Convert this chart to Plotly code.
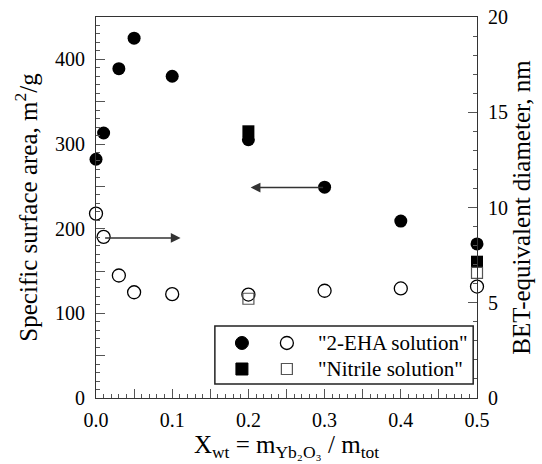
import plotly.graph_objects as go

# ---- data ----
x_vals = [0.0, 0.01, 0.03, 0.05, 0.1, 0.2, 0.3, 0.4, 0.5]
eha_area = [282, 313, 389, 425, 380, 305, 249, 209, 182]          # m2/g (left axis)
eha_diam = [9.68, 8.46, 6.43, 5.55, 5.45, 5.43, 5.63, 5.75, 5.85]  # nm (right axis)
nit_x = [0.2, 0.5]
nit_area = [315, 161]
nit_diam = [5.21, 6.57]

x_tickvals = [0, 0.05, 0.1, 0.15, 0.2, 0.25, 0.3, 0.35, 0.4, 0.45, 0.5]
x_ticktext = ["0.0", "", "0.1", "", "0.2", "", "0.3", "", "0.4", "", "0.5"]
y_tickvals = [0, 50, 100, 150, 200, 250, 300, 350, 400, 450]
y_ticktext = ["0", "", "100", "", "200", "", "300", "", "400", ""]
y2_tickvals = [0, 5, 10, 15, 20]
legend_labels = ['"2-EHA solution"', '"Nitrile solution"']

FONT = "Liberation Serif, Times New Roman, serif"
AX = "#333333"
TK = "#555555"

fig = go.Figure()
fig.add_trace(go.Scatter(x=x_vals, y=eha_area, mode="markers", cliponaxis=False,
                         marker=dict(symbol="circle", size=13, color="black"), showlegend=False))
fig.add_trace(go.Scatter(x=nit_x, y=nit_area, mode="markers", cliponaxis=False,
                         marker=dict(symbol="square", size=12, color="black"), showlegend=False))
fig.add_trace(go.Scatter(x=x_vals, y=eha_diam, mode="markers", yaxis="y2", cliponaxis=False,
                         marker=dict(symbol="circle-open", size=13, color="black",
                                     line=dict(width=1.3, color="black")), showlegend=False))
fig.add_trace(go.Scatter(x=nit_x, y=nit_diam, mode="markers", yaxis="y2", cliponaxis=False,
                         marker=dict(symbol="square-open", size=11, color="#555555",
                                     line=dict(width=1.2, color="#555555")), showlegend=False))

# arrows
fig.add_annotation(x=0.203, y=248.6, ax=0.3, ay=248.6, xref="x", yref="y", axref="x", ayref="y",
                   showarrow=True, arrowhead=2, arrowsize=1.3, arrowwidth=1.5, arrowcolor="#333", text="")
fig.add_annotation(x=0.111, y=8.4, ax=0.01, ay=8.4, xref="x", yref="y2", axref="x", ayref="y2",
                   showarrow=True, arrowhead=2, arrowsize=1.3, arrowwidth=1.5, arrowcolor="#333", text="")

# custom legend
shapes = [dict(type="rect", xref="paper", yref="paper", x0=0.312, x1=0.990, y0=0.037, y1=0.189,
               line=dict(color="#222", width=1.5), fillcolor="white", layer="above")]
rows_y = [0.1444, 0.0761]
cx1, cx2 = 0.383, 0.501
r = 6.5
shapes.append(dict(type="circle", xref="paper", yref="paper", xsizemode="pixel", ysizemode="pixel",
                   xanchor=cx1, yanchor=rows_y[0], x0=-r, x1=r, y0=-r, y1=r,
                   fillcolor="black", line=dict(color="black", width=1), layer="above"))
shapes.append(dict(type="circle", xref="paper", yref="paper", xsizemode="pixel", ysizemode="pixel",
                   xanchor=cx2, yanchor=rows_y[0], x0=-r, x1=r, y0=-r, y1=r,
                   fillcolor="white", line=dict(color="black", width=1.3), layer="above"))
s = 6
shapes.append(dict(type="rect", xref="paper", yref="paper", xsizemode="pixel", ysizemode="pixel",
                   xanchor=cx1, yanchor=rows_y[1], x0=-s, x1=s, y0=-s, y1=s,
                   fillcolor="black", line=dict(color="black", width=1), layer="above"))
shapes.append(dict(type="rect", xref="paper", yref="paper", xsizemode="pixel", ysizemode="pixel",
                   xanchor=cx2, yanchor=rows_y[1], x0=-s+0.5, x1=s-0.5, y0=-s+0.5, y1=s-0.5,
                   fillcolor="white", line=dict(color="#555", width=1.2), layer="above"))
for lab, yy in zip(legend_labels, rows_y):
    fig.add_annotation(x=0.577, y=yy, xref="paper", yref="paper", text=lab, showarrow=False,
                       xanchor="left", yanchor="middle", font=dict(family=FONT, size=21, color="black"))

fig.update_layout(
    width=542, height=464,
    margin=dict(l=96, r=65, t=17, b=66, autoexpand=False),
    plot_bgcolor="white", paper_bgcolor="white",
    font=dict(family=FONT, size=20, color="black"),
    shapes=shapes,
    xaxis=dict(range=[0, 0.5], tickvals=x_tickvals, ticktext=x_ticktext, automargin=False,
               ticks="inside", ticklen=9, tickcolor=TK, tickwidth=1,
               minor=dict(dtick=0.01, ticks="inside", ticklen=4, tickcolor=TK),
               showline=True, linecolor=AX, linewidth=1.2, mirror=True, showgrid=False, zeroline=False,
               ticklabelstandoff=4,
               title=dict(text="X<sub>wt</sub> = m<sub>Yb₂O₃</sub> / m<sub>tot</sub>",
                          font=dict(size=25), standoff=2)),
    yaxis=dict(range=[0, 450], tickvals=y_tickvals, ticktext=y_ticktext, automargin=False,
               ticks="inside", ticklen=9, tickcolor=TK, tickwidth=1,
               minor=dict(dtick=10, ticks="inside", ticklen=4, tickcolor=TK),
               showline=True, linecolor=AX, linewidth=1.2, showgrid=False, zeroline=False,
               ticklabelstandoff=6,
               title=dict(text="Specific surface area, m<sup>2</sup>/g", font=dict(size=25), standoff=10)),
    yaxis2=dict(range=[0, 20], tickvals=y2_tickvals, overlaying="y", side="right", automargin=False,
                ticks="inside", ticklen=9, tickcolor=TK, tickwidth=1,
                minor=dict(dtick=1, ticks="inside", ticklen=4, tickcolor=TK),
                showline=True, linecolor=AX, linewidth=1.2, showgrid=False, zeroline=False,
                ticklabelstandoff=6,
                title=dict(text="BET-equivalent diameter, nm", font=dict(size=25), standoff=4)),
)

fig.write_html("out.html", config={"displayModeBar": False},
               post_script="document.body.style.margin='0';document.body.style.overflow='hidden';")
